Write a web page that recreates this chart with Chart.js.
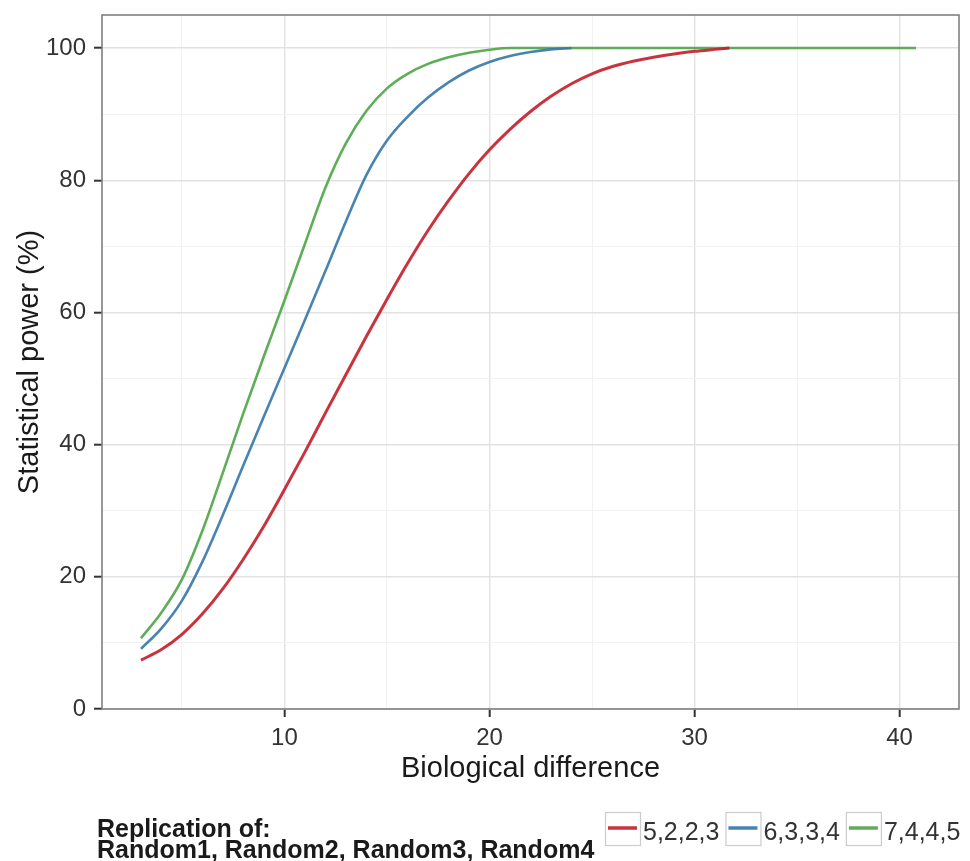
<!DOCTYPE html>
<html>
<head>
<meta charset="utf-8">
<script src="https://cdn.jsdelivr.net/npm/chart.js@4.4.1/dist/chart.umd.min.js"></script>
<style>
html,body{margin:0;padding:0;background:#fff;}
#wrap{width:970px;height:861px;position:relative;}
</style>
</head>
<body>
<div id="wrap"><canvas id="c" width="970" height="861"></canvas></div>
<script>
// ---- data ----
const seriesNames = ['5,2,2,3', '6,3,3,4', '7,4,4,5'];
const seriesColors = ['rgba(196,34,44,0.92)', 'rgba(58,122,170,0.92)', 'rgba(80,166,74,0.92)'];

const redX = [3, 4, 5, 6, 7, 8, 9, 10, 11, 12, 13, 14, 15, 16, 17, 18, 19, 20, 21, 22, 23, 24, 25, 26, 27, 28, 29, 30, 31, 31.7];
const redY = [7.4, 9.0, 11.3, 14.4, 18.2, 22.7, 27.7, 33.2, 38.9, 44.8, 50.6, 56.4, 62.0, 67.4, 72.4, 76.9, 81.0, 84.6, 87.7, 90.4, 92.7, 94.6, 96.1, 97.2, 98.0, 98.6, 99.1, 99.5, 99.8, 100];

const blueX = [3, 4, 5, 6, 7, 8, 9, 10, 11, 12, 13, 14, 15, 16, 17, 18, 19, 20, 21, 22, 23, 24];
const blueY = [9.1, 12.2, 16.4, 22.3, 29.4, 36.9, 44.3, 51.6, 58.9, 66.3, 73.8, 80.8, 86.0, 89.6, 92.5, 94.8, 96.6, 97.9, 98.8, 99.4, 99.8, 100];

const greenX = [3, 4, 5, 6, 7, 8, 9, 10, 11, 12, 13, 14, 15, 16, 17, 18, 19, 20, 21, 25, 30, 35, 40, 40.8];
const greenY = [10.7, 14.6, 19.6, 27.0, 35.8, 44.8, 53.4, 61.8, 70.4, 78.9, 85.6, 90.5, 93.9, 96.1, 97.6, 98.6, 99.3, 99.75, 100, 100, 100, 100, 100, 100];

const xTicks = [5, 10, 15, 20, 25, 30, 35, 40];
const xTickLabels = [10, 20, 30, 40];
const yTicks = [0, 10, 20, 30, 40, 50, 60, 70, 80, 90, 100];
const yTickLabels = [0, 20, 40, 60, 80, 100];

const xTitle = 'Biological difference';
const yTitle = 'Statistical power (%)';
const legendTitleLines = ['Replication of:', 'Random1, Random2, Random3, Random4'];

// ---- chart ----
const FONT = '"Liberation Sans", Arial, Helvetica, sans-serif';
const toPts = (xs, ys) => xs.map((x, i) => ({ x: x, y: ys[i] }));
const seriesData = [toPts(redX, redY), toPts(blueX, blueY), toPts(greenX, greenY)];
const widths = [3, 2.6, 2.6];

const majorGrid = '#e2e2e2', minorGrid = '#f2f2f2';

const frameAndLegend = {
  id: 'frameAndLegend',
  beforeDatasetsDraw(chart) {
    const a = chart.chartArea, ctx = chart.ctx;
    ctx.save();
    ctx.strokeStyle = '#808080';
    ctx.lineWidth = 1.6;
    ctx.strokeRect(a.left, a.top, a.right - a.left, a.bottom - a.top);
    ctx.restore();
  },
  afterDraw(chart) {
    const ctx = chart.ctx;
    ctx.save();
    ctx.textAlign = 'left';
    ctx.textBaseline = 'alphabetic';
    ctx.fillStyle = '#1a1a1a';
    ctx.font = 'bold 25px ' + FONT;
    legendTitleLines.forEach((t, i) => ctx.fillText(t, 97, 837 + i * 21));

    ctx.font = '25px ' + FONT;
    let x = 605;
    const top = 812, size = 34;
    chart.data.datasets.forEach((ds) => {
      ctx.fillStyle = '#ffffff';
      ctx.fillRect(x, top, 36, size);
      ctx.strokeStyle = '#cccccc';
      ctx.lineWidth = 1.2;
      ctx.strokeRect(x + 0.5, top + 0.5, 35, size - 1);
      ctx.strokeStyle = ds.borderColor;
      ctx.lineWidth = 3.5;
      ctx.beginPath();
      ctx.moveTo(x + 3, top + 16);
      ctx.lineTo(x + 32, top + 16);
      ctx.stroke();
      ctx.fillStyle = '#333333';
      const tx = x + 38;
      ctx.fillText(ds.label, tx, 840);
      x = tx + ctx.measureText(ds.label).width + 6;
    });
    ctx.restore();
  }
};

new Chart(document.getElementById('c'), {
  type: 'line',
  data: {
    datasets: seriesNames.map((name, i) => ({
      label: name,
      data: seriesData[i],
      borderColor: seriesColors[i],
      backgroundColor: seriesColors[i],
      borderWidth: widths[i],
      pointRadius: 0,
      pointHoverRadius: 0,
      fill: false,
      cubicInterpolationMode: 'monotone'
    }))
  },
  options: {
    responsive: false,
    animation: false,
    devicePixelRatio: 1,
    layout: { padding: { left: 0, top: 15, right: 11, bottom: 0 } },
    plugins: {
      legend: { display: false },
      tooltip: { enabled: false }
    },
    scales: {
      x: {
        type: 'linear',
        min: 1.1,
        max: 42.9,
        afterBuildTicks: (s) => { s.ticks = xTicks.map(v => ({ value: v })); },
        afterFit: (s) => { s.height = 152; s.paddingLeft = 0; s.paddingRight = 0; },
        border: { display: false },
        grid: {
          color: (c) => (c.tick && xTickLabels.includes(c.tick.value)) ? majorGrid : minorGrid,
          lineWidth: (c) => (c.tick && xTickLabels.includes(c.tick.value)) ? 1.4 : 1,
          drawTicks: true,
          tickLength: 8,
          tickColor: (c) => (c.tick && xTickLabels.includes(c.tick.value)) ? '#333333' : 'rgba(0,0,0,0)',
          tickWidth: 2
        },
        ticks: {
          autoSkip: false,
          maxRotation: 0,
          padding: 7,
          color: '#333333',
          font: { family: FONT, size: 24 },
          callback: (v) => xTickLabels.includes(v) ? String(v) : ''
        },
        title: {
          display: true,
          text: xTitle,
          color: '#1a1a1a',
          font: { family: FONT, size: 29 },
          padding: { top: 0, bottom: 75 }
        }
      },
      y: {
        type: 'linear',
        min: 0,
        max: 105,
        afterBuildTicks: (s) => { s.ticks = yTicks.map(v => ({ value: v })); },
        afterFit: (s) => { s.width = 102; s.paddingTop = 0; s.paddingBottom = 0; },
        border: { display: false },
        grid: {
          color: (c) => (c.tick && yTickLabels.includes(c.tick.value)) ? majorGrid : minorGrid,
          lineWidth: (c) => (c.tick && yTickLabels.includes(c.tick.value)) ? 1.4 : 1,
          drawTicks: true,
          tickLength: 8,
          tickColor: (c) => (c.tick && yTickLabels.includes(c.tick.value)) ? '#333333' : 'rgba(0,0,0,0)',
          tickWidth: 2
        },
        ticks: {
          autoSkip: false,
          padding: 8,
          color: '#333333',
          font: { family: FONT, size: 24 },
          callback: (v) => yTickLabels.includes(v) ? String(v) : ''
        },
        title: {
          display: true,
          text: yTitle,
          color: '#1a1a1a',
          font: { family: FONT, size: 29 },
          padding: { top: 13, bottom: 0 }
        }
      }
    }
  },
  plugins: [frameAndLegend]
});
</script>
</body>
</html>
